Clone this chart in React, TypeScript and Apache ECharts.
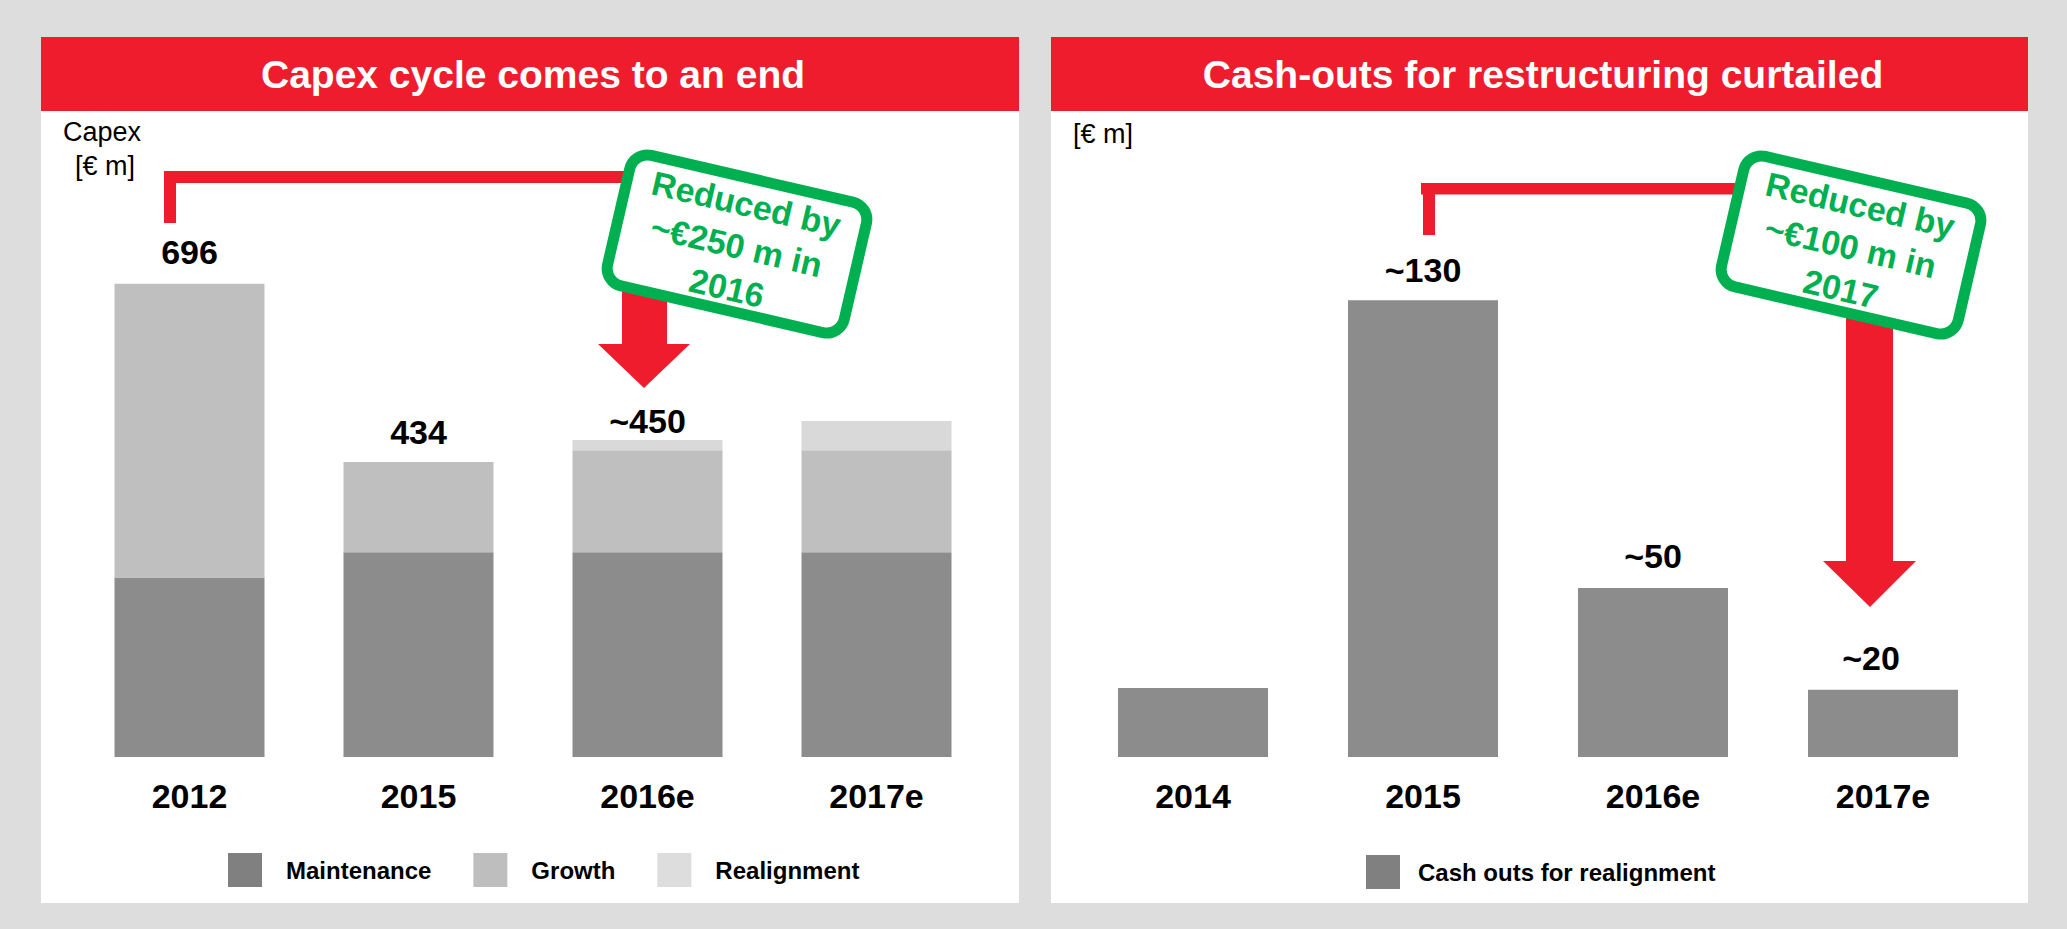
import React, { useEffect, useRef } from "react";
import * as echarts from "echarts";

// ---------- data ----------
const capexCategories = ["2012", "2015", "2016e", "2017e"];
const maintenance = [264, 301, 301, 301];
const growth = [432, 133, 150, 150];
const realignment = [0, 0, 15, 43];
const capexTotalLabels = ["696", "434", "~450", ""];
const capexLegend = ["Maintenance", "Growth", "Realignment"];

const cashCategories = ["2014", "2015", "2016e", "2017e"];
const cashOuts = [20, 132.5, 49, 19.5];
const cashLabels = ["", "~130", "~50", "~20"];
const cashLegend = ["Cash outs for realignment"];

const leftTitle = "Capex cycle comes to an end";
const rightTitle = "Cash-outs for restructuring curtailed";
const leftBoxText = ["Reduced by", "~€250 m in", "2016"];
const rightBoxText = ["Reduced by", "~€100 m in", "2017"];

const FONT = '"Liberation Sans", Arial, Helvetica, sans-serif';
const RED = "#EF1C2D";
const GREEN = "#00B050";

export default function App() {
  const ref = useRef<HTMLDivElement>(null);

  useEffect(() => {
    if (!ref.current) return;
    const chart = echarts.init(ref.current, undefined, { renderer: "svg" });

    const capexGap = [15, 13, 2, 0];
    const cashGap = [0, 13, 15, 15];
    const cashOffset = [0, 0, 0, -12];
    const legendColors = ["#808080", "#BEBEBE", "#DDDDDD"];

    const labelStyle = {
      fontSize: 34,
      fontWeight: "bold" as const,
      color: "#000",
      fontFamily: FONT,
    };

    const xAxisCommon = {
      type: "category" as const,
      axisLine: { show: false },
      axisTick: { show: false },
      axisLabel: { margin: 22, ...labelStyle },
    };

    const box = (cx: number, cy: number, lines: string[]) => ({
      type: "group",
      x: cx,
      y: cy,
      rotation: (-13 * Math.PI) / 180,
      z: 10,
      children: [
        {
          type: "rect",
          z: 10,
          shape: { x: -121.5, y: -67, width: 243, height: 134, r: 18 },
          style: { fill: "#fff", stroke: GREEN, lineWidth: 11 },
        },
        {
          type: "text",
          z: 11,
          style: {
            text: lines.join("\n"),
            x: 0,
            y: 2,
            align: "center",
            verticalAlign: "middle",
            fontSize: 34,
            fontWeight: "bold",
            fontFamily: FONT,
            lineHeight: 43,
            fill: GREEN,
          },
        },
      ],
    });

    const option: any = {
      animation: false,
      backgroundColor: "#DDDDDD",
      grid: [
        { left: 75, width: 916, top: 213, height: 544 },
        { left: 1078, width: 920, top: 240, height: 517 },
      ],
      xAxis: [
        { ...xAxisCommon, gridIndex: 0, data: capexCategories },
        { ...xAxisCommon, gridIndex: 1, data: cashCategories },
      ],
      yAxis: [
        { type: "value", gridIndex: 0, min: 0, max: 800, show: false },
        { type: "value", gridIndex: 1, min: 0, max: 150, show: false },
      ],
      legend: [
        {
          data: capexLegend.map((n, i) => ({ name: n, itemStyle: { color: legendColors[i] } })),
          left: 223,
          top: 848,
          itemWidth: 34,
          itemHeight: 34,
          itemGap: 42,
          icon: "rect",
          selectedMode: false,
          textStyle: {
            fontSize: 24,
            fontWeight: "bold",
            color: "#000",
            fontFamily: FONT,
            padding: [0, 0, 0, 19],
          },
        },
        {
          data: cashLegend.map((n) => ({ name: n, itemStyle: { color: "#808080" } })),
          left: 1361,
          top: 850,
          itemWidth: 34,
          itemHeight: 34,
          icon: "rect",
          selectedMode: false,
          textStyle: {
            fontSize: 24,
            fontWeight: "bold",
            color: "#000",
            fontFamily: FONT,
            padding: [0, 0, 0, 13],
          },
        },
      ],
      series: [
        {
          type: "bar",
          name: capexLegend[0],
          stack: "capex",
          xAxisIndex: 0,
          yAxisIndex: 0,
          barWidth: 150,
          silent: true,
          itemStyle: { color: "#8C8C8C" },
          data: maintenance,
        },
        {
          type: "bar",
          name: capexLegend[1],
          stack: "capex",
          xAxisIndex: 0,
          yAxisIndex: 0,
          barWidth: 150,
          silent: true,
          itemStyle: { color: "#BFBFBF" },
          data: growth,
        },
        {
          type: "bar",
          name: capexLegend[2],
          stack: "capex",
          xAxisIndex: 0,
          yAxisIndex: 0,
          barWidth: 150,
          silent: true,
          itemStyle: { color: "#D9D9D9" },
          label: {
            show: true,
            position: "top",
            formatter: (p: any) => capexTotalLabels[p.dataIndex],
            ...labelStyle,
          },
          data: realignment.map((v, i) => ({ value: v, label: { distance: capexGap[i] } })),
        },
        {
          type: "bar",
          name: cashLegend[0],
          xAxisIndex: 1,
          yAxisIndex: 1,
          barWidth: 150,
          silent: true,
          itemStyle: { color: "#8C8C8C" },
          label: {
            show: true,
            position: "top",
            formatter: (p: any) => cashLabels[p.dataIndex],
            ...labelStyle,
          },
          data: cashOuts.map((v, i) => ({
            value: v,
            label: { distance: cashGap[i], offset: [cashOffset[i], 0] },
          })),
        },
      ],
      graphic: [
        // panels
        { type: "rect", z: 0, shape: { x: 41, y: 37, width: 978, height: 866 }, style: { fill: "#fff" } },
        { type: "rect", z: 0, shape: { x: 1051, y: 37, width: 977, height: 866 }, style: { fill: "#fff" } },
        // headers
        { type: "rect", z: 1, shape: { x: 41, y: 37, width: 978, height: 74 }, style: { fill: RED } },
        { type: "rect", z: 1, shape: { x: 1051, y: 37, width: 977, height: 74 }, style: { fill: RED } },
        {
          type: "text",
          z: 2,
          style: {
            text: leftTitle,
            x: 533,
            y: 74,
            align: "center",
            verticalAlign: "middle",
            fontSize: 39,
            fontWeight: "bold",
            fontFamily: FONT,
            fill: "#fff",
          },
        },
        {
          type: "text",
          z: 2,
          style: {
            text: rightTitle,
            x: 1543,
            y: 74,
            align: "center",
            verticalAlign: "middle",
            fontSize: 39,
            fontWeight: "bold",
            fontFamily: FONT,
            fill: "#fff",
          },
        },
        // unit texts
        {
          type: "text",
          z: 2,
          style: { text: "Capex", x: 102, y: 132, align: "center", verticalAlign: "middle", fontSize: 27, fontFamily: FONT, fill: "#000" },
        },
        {
          type: "text",
          z: 2,
          style: { text: "[€ m]", x: 105, y: 166, align: "center", verticalAlign: "middle", fontSize: 27, fontFamily: FONT, fill: "#000" },
        },
        {
          type: "text",
          z: 2,
          style: { text: "[€ m]", x: 1103, y: 134, align: "center", verticalAlign: "middle", fontSize: 27, fontFamily: FONT, fill: "#000" },
        },
        // left bracket + arrow
        { type: "rect", z: 3, shape: { x: 164, y: 171, width: 480, height: 12 }, style: { fill: RED } },
        { type: "rect", z: 3, shape: { x: 164, y: 171, width: 12, height: 52 }, style: { fill: RED } },
        {
          type: "polygon",
          z: 3,
          shape: {
            points: [
              [622, 171],
              [667, 171],
              [667, 344],
              [690, 344],
              [644, 388],
              [598, 344],
              [622, 344],
            ],
          },
          style: { fill: RED },
        },
        // right bracket + arrow
        { type: "rect", z: 3, shape: { x: 1421, y: 183, width: 449, height: 11.5 }, style: { fill: RED } },
        { type: "rect", z: 3, shape: { x: 1423, y: 183, width: 12, height: 52 }, style: { fill: RED } },
        {
          type: "polygon",
          z: 3,
          shape: {
            points: [
              [1846, 183],
              [1893, 183],
              [1893, 561],
              [1916, 561],
              [1870, 607],
              [1823, 561],
              [1846, 561],
            ],
          },
          style: { fill: RED },
        },
        box(737, 244, leftBoxText),
        box(1851, 245, rightBoxText),
      ],
    };

    chart.setOption(option);
    return () => chart.dispose();
  }, []);

  return (
    <div
      ref={ref}
      style={{ position: "absolute", left: 0, top: 0, width: 2067, height: 929 }}
    />
  );
}
